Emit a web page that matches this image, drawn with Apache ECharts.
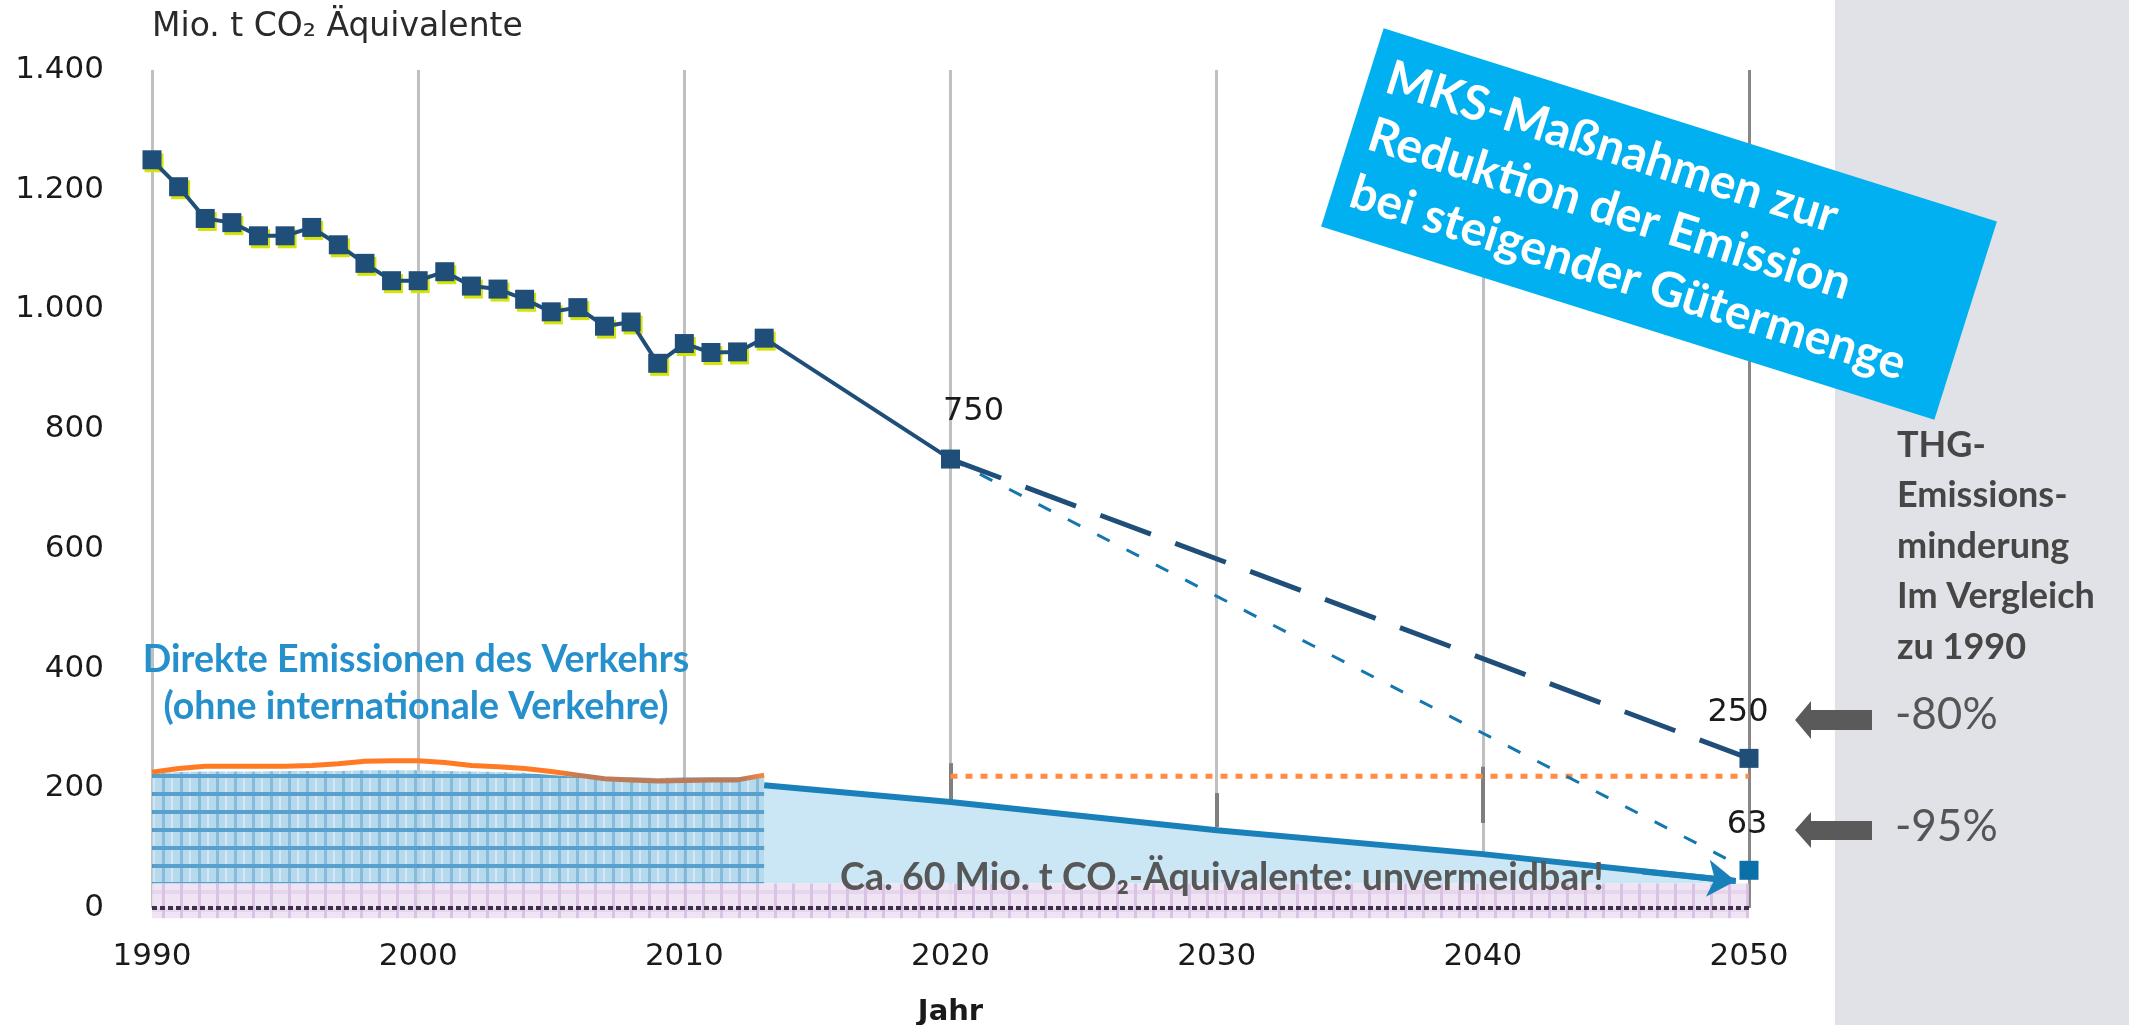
<!DOCTYPE html>
<html>
<head>
<meta charset="utf-8">
<title>THG-Emissionen des Verkehrs</title>
<script src="https://cdn.jsdelivr.net/npm/echarts@6/dist/echarts.min.js"></script>
<style>
html,body{margin:0;padding:0;background:#fff;}
#main{width:2129px;height:1025px;}
</style>
</head>
<body>
<div id="main"></div>
<script>
// Werte (Mio. t CO2-Äquivalente)
var jahre = [1990,1991,1992,1993,1994,1995,1996,1997,1998,1999,2000,2001,2002,2003,2004,2005,2006,2007,2008,2009,2010,2011,2012,2013];
var emissionen = [1250,1205,1152,1145,1123,1123,1137,1108,1077,1048,1048,1063,1039,1034,1017,996,1003,972,979,910,943,928,929,952];
var ziel2020 = [2020, 750];
var ziel80 = [[2020, 750], [2050, 250]];
var ziel95 = [[2020, 750], [2050, 63]];

// direkte Emissionen des Verkehrs
var direkt = [225,227,228,228,228,229,229,229,230,230,230,229,228,227,226,222,219,218,218,217,218,218,218,218];
var direktOrange = [227,233,237,237,237,237,238,241,245,246,246,243,238,236,233,228,222,216,214,212,213,214,214,222];
var pfadJahre = [2013, 2020, 2030, 2040, 2049.5];
var pfadWerte = [205, 177, 130, 90, 45];
var referenz = [[2020, 220], [2050, 220]];
var stuetzen = [[2020, 242, 177], [2030, 192, 135], [2040, 236, 142]];
var sockel = [-17, 41]; // ca. 60 Mio. t unvermeidbar
var nulllinie = [[1990, 0], [2050, 0]];

function karo() {
	var c = document.createElement('canvas');
	c.width = 18; c.height = 18;
	var g = c.getContext('2d');
	g.fillStyle = '#b0d5ea'; g.fillRect(0, 0, 18, 18);
	g.fillStyle = '#cfe6f3'; g.fillRect(9, 0, 2, 18);
	g.fillStyle = '#78b5d9'; g.fillRect(0, 0, 3, 18);
	g.fillStyle = '#4696c8'; g.fillRect(0, 0, 18, 4);
	return c;
}
function lila() {
	var c = document.createElement('canvas');
	c.width = 18; c.height = 18;
	var g = c.getContext('2d');
	g.fillStyle = '#eee2f3'; g.fillRect(0, 0, 18, 18);
	g.fillStyle = '#e5d2ec'; g.fillRect(0, 8, 18, 4);
	g.fillStyle = '#d7bde2'; g.fillRect(0, 0, 3, 18);
	return c;
}
var musterKaro = karo();
var musterLila = lila();

function tausender(v) {
	if (v >= 1000) return Math.floor(v / 1000) + '.' + String(v % 1000).padStart(3, '0');
	return String(v);
}

var myChart = echarts.init(document.getElementById('main'));

var option = {
	animation: false,
	backgroundColor: '#ffffff',
	grid: { left: 152, right: 380, top: 70, bottom: 117, containLabel: false, outerBoundsMode: 'none' },
	xAxis: {
		type: 'value', min: 1990, max: 2050, interval: 10,
		name: 'Jahr', nameLocation: 'middle', nameGap: 104,
		nameTextStyle: { fontFamily: 'DejaVu Sans', fontWeight: 'bold', fontSize: 29, color: '#1a1a1a', verticalAlign: 'middle' },
		axisLine: { show: false },
		axisTick: { show: false },
		axisLabel: { margin: 33, fontFamily: 'DejaVu Sans', fontSize: 31, color: '#1a1a1a', lineHeight: 31,
			formatter: function (v) { return String(v); } },
		splitLine: { show: true, lineStyle: { width: 3, color: ['#c0c0c0','#c0c0c0','#c0c0c0','#c0c0c0','#c0c0c0','#c0c0c0','#878787'] } }
	},
	yAxis: {
		type: 'value', min: 0, max: 1400, interval: 200,
		name: 'Mio. t CO₂ Äquivalente', nameLocation: 'end', nameGap: 43,
		nameTextStyle: { fontFamily: 'DejaVu Sans', fontSize: 33, color: '#2a2a2a', align: 'left', verticalAlign: 'middle' },
		axisLine: { show: false },
		axisTick: { show: false },
		splitLine: { show: false },
		axisLabel: { margin: 48, fontFamily: 'DejaVu Sans', fontSize: 31, color: '#1a1a1a', formatter: tausender }
	},
	series: [
		{
			// Fläche des Minderungspfads
			type: 'line', z: 2, silent: true, symbol: 'none',
			data: pfadJahre.map(function (j, i) { return [j, pfadWerte[i]]; }),
			lineStyle: { width: 0, opacity: 0 },
			areaStyle: { color: '#cbe7f5', opacity: 1, origin: sockel[1] }
		},
		{
			type: 'line', z: 3, silent: true, symbol: 'none',
			data: jahre.map(function (j, i) { return [j, direkt[i]]; }),
			lineStyle: { width: 0, opacity: 0 },
			areaStyle: { color: { image: musterKaro, repeat: 'repeat' }, opacity: 0.9, origin: sockel[1] }
		},
		{
			type: 'custom', z: 3, silent: true, clip: false,
			data: [[1990, 2050, sockel[0], sockel[1]]],
			encode: { x: [0, 1], y: [2, 3] },
			renderItem: function (params, api) {
				var a = api.coord([api.value(0), api.value(3)]);
				var b = api.coord([api.value(1), api.value(2)]);
				return {
					type: 'rect',
					shape: { x: a[0], y: a[1], width: b[0] - a[0], height: b[1] - a[1] },
					style: { fill: { image: musterLila, repeat: 'repeat' }, opacity: 0.92 }
				};
			}
		},
		{
			type: 'line', z: 4, silent: true, symbol: 'none',
			data: jahre.map(function (j, i) { return [j, direktOrange[i]]; }),
			lineStyle: {
				width: 5,
				color: { type: 'linear', x: 0, y: 0, x2: 1, y2: 0, colorStops: [
					{ offset: 0, color: '#ff7a22' }, { offset: 0.66, color: '#ff7a22' },
					{ offset: 0.70, color: '#bf7b55' }, { offset: 0.96, color: '#b97b58' }, { offset: 1, color: '#ff8a3a' }
				] }
			}
		},
		{
			type: 'line', z: 5, silent: true, symbol: 'none',
			data: nulllinie,
			lineStyle: { width: 4, color: '#3b3046', type: [5, 3] }
		},
		{
			type: 'line', z: 5, silent: true, symbol: 'none',
			data: referenz,
			lineStyle: { width: 5, color: '#ff8c45', type: [7, 8] },
			markLine: {
				silent: true, symbol: 'none', label: { show: false },
				lineStyle: { color: '#7f7f7f', width: 4, type: 'solid' },
				data: stuetzen.map(function (s) { return [{ coord: [s[0], s[1]] }, { coord: [s[0], s[2]] }]; })
			}
		},
		{
			// Minderungspfad mit Pfeil
			type: 'line', z: 6, silent: true, symbol: 'none',
			data: pfadJahre.map(function (j, i) { return [j, pfadWerte[i]]; }),
			lineStyle: { color: '#1a80b9', width: 6 },
			markLine: {
				silent: true, symbol: ['none', 'arrow'], symbolSize: 28, label: { show: false },
				lineStyle: { color: '#1a80b9', width: 6, type: 'solid' },
				data: [[{ coord: [2046, pfadWerte[4] + 16] }, { coord: [pfadJahre[4], pfadWerte[4]] }]]
			}
		},
		{
			type: 'line', z: 8, silent: true, symbol: 'rect', symbolSize: 19, symbolOffset: [2, 3],
			data: jahre.map(function (j, i) { return [j, emissionen[i]]; }),
			itemStyle: { color: '#d5e30c' },
			lineStyle: { width: 0, opacity: 0 }
		},
		{
			type: 'line', z: 9, silent: true, symbol: 'rect', symbolSize: 14,
			data: [ziel95[0], { value: ziel95[1], symbolSize: 19,
				label: { show: true, position: 'top', distance: 20, offset: [-2, 0], formatter: String(ziel95[1][1]), fontFamily: 'DejaVu Sans', fontSize: 32, color: '#1a1a1a', lineHeight: 32 } }],
			showAllSymbol: true,
			itemStyle: { color: '#0b6fa8' },
			lineStyle: { color: '#1477b0', width: 3, type: [14, 19] }
		},
		{
			type: 'line', z: 10, silent: true, symbol: 'rect', symbolSize: 19,
			data: [{ value: ziel80[0], symbol: 'none' }, { value: ziel80[1],
				label: { show: true, position: 'top', distance: 20, offset: [-11, 0], formatter: String(ziel80[1][1]), fontFamily: 'DejaVu Sans', fontSize: 32, color: '#1a1a1a', lineHeight: 32 } }],
			itemStyle: { color: '#1f4e79' },
			lineStyle: { color: '#1f4e79', width: 5, type: [54, 26] }
		},
		{
			type: 'line', z: 11, silent: true, symbol: 'rect', symbolSize: 19,
			data: jahre.map(function (j, i) { return [j, emissionen[i]]; }).concat([{ value: ziel2020,
				label: { show: true, position: 'top', distance: 22, offset: [23, 0], formatter: String(ziel2020[1]), fontFamily: 'DejaVu Sans', fontSize: 32, color: '#1a1a1a', lineHeight: 32 } }]),
			itemStyle: { color: '#1f4e79' },
			lineStyle: { color: '#1f4e79', width: 4 }
		}
	],
	graphic: [
		{ type: 'rect', z: 0, silent: true, shape: { x: 1835, y: 0, width: 294, height: 1025 }, style: { fill: '#e1e2e7' } },
		{ type: 'text', z: 50, silent: true, style: { text: 'Direkte Emissionen des Verkehrs\n(ohne internationale Verkehre)', x: 416, y: 683, font: 'bold 37.5px Lato', fill: '#2590cc', lineHeight: 47, align: 'center', verticalAlign: 'middle', textAlign: 'center', textVerticalAlign: 'middle' } },
		{ type: 'text', z: 50, silent: true, style: { text: 'Ca. 60 Mio. t CO₂-Äquivalente: unvermeidbar!', x: 1222, y: 878, font: 'bold 37.5px Lato', fill: '#575757', align: 'center', verticalAlign: 'middle', textAlign: 'center', textVerticalAlign: 'middle' } },
		{ type: 'text', z: 50, silent: true, style: { text: 'THG-\nEmissions-\nminderung\nIm Vergleich\nzu 1990', x: 1897, y: 420, font: 'bold 36px Lato', fill: '#464646', lineHeight: 50.5, align: 'left', verticalAlign: 'top', textAlign: 'left', textVerticalAlign: 'top' } },
		{ type: 'text', z: 50, silent: true, style: { text: '-80%', x: 1895, y: 715, font: '44px Lato', fill: '#555555', align: 'left', verticalAlign: 'middle', textAlign: 'left', textVerticalAlign: 'middle' } },
		{ type: 'text', z: 50, silent: true, style: { text: '-95%', x: 1895, y: 827, font: '44px Lato', fill: '#555555', align: 'left', verticalAlign: 'middle', textAlign: 'left', textVerticalAlign: 'middle' } },
		{ type: 'polygon', z: 50, silent: true, shape: { points: [[1795,720],[1811,701],[1811,710],[1872,710],[1872,730],[1811,730],[1811,739]] }, style: { fill: '#5a5a5a' } },
		{ type: 'polygon', z: 50, silent: true, shape: { points: [[1795,830],[1811,812],[1811,821],[1872,821],[1872,840],[1811,840],[1811,848]] }, style: { fill: '#5a5a5a' } },
		{
			type: 'group', x: 1659, y: 224, rotation: -17.5 * Math.PI / 180, z: 100, silent: true,
			children: [
				{ type: 'rect', z: 100, shape: { x: -321.5, y: -104, width: 643, height: 208 }, style: { fill: '#00b0f0' } },
				{ type: 'text', z: 101, style: { text: 'MKS-Maßnahmen zur\nReduktion der Emission\nbei steigender Gütermenge', x: -303, y: -89, font: 'bold 48px Lato', fill: '#ffffff', lineHeight: 60, align: 'left', verticalAlign: 'top', textAlign: 'left', textVerticalAlign: 'top' } }
			]
		}
	]
};

myChart.setOption(option);
</script>
</body>
</html>
